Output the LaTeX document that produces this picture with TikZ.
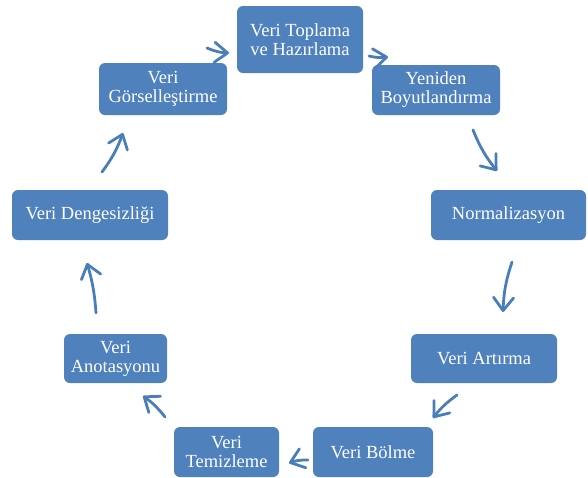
\documentclass[tikz,border=0pt]{standalone}
\usepackage{fontspec}
\setmainfont{Liberation Serif}
\usetikzlibrary{positioning, arrows.meta, calc}

\definecolor{boxblue}{RGB}{79,129,189}
\definecolor{arrowblue}{RGB}{74,126,187}

\begin{document}
\begin{tikzpicture}[x=1pt, y=-1pt,
        stage/.style={fill=boxblue, rounded corners=6pt, inner sep=0pt, align=center,
            text=white, font=\fontsize{18.5}{19}\selectfont},
        flow/.style={draw=arrowblue, line width=2.8pt, line cap=round, line join=round,
            -{Straight Barb[length=13pt, width=20pt, line cap=round, line join=round]}}]

        \useasboundingbox (0,0) rectangle (588,477);

        %STAGES
        \node[stage, minimum width=126pt, minimum height=67pt] (toplama) at (300,39.5) {Veri Toplama\\ve Hazırlama};
        \node[stage, minimum width=128pt, minimum height=50pt] (yeniden) at (436,90) {Yeniden\\Boyutlandırma};
        \node[stage, minimum width=155pt, minimum height=50pt] (norm) at (508.5,215) {Normalizasyon};
        \node[stage, minimum width=146pt, minimum height=49pt] (artirma) at (484,358.5) {Veri Artırma};
        \node[stage, minimum width=120pt, minimum height=50pt] (bolme) at (373,452) {Veri Bölme};
        \node[stage, minimum width=105pt, minimum height=50pt] (temizleme) at (226.5,452) {Veri\\Temizleme};
        \node[stage, minimum width=103pt, minimum height=49pt] (anot) at (115.5,358.5) {Veri\\Anotasyonu};
        \node[stage, minimum width=156pt, minimum height=50pt] (denge) at (90,215) {Veri Dengesizliği};
        \node[stage, minimum width=128pt, minimum height=52pt] (gorsel) at (163,89) {Veri\\Görselleştirme};

        % ARROW ENDS (FREE, BETWEEN THE STAGES)
        \coordinate (gorsel out) at (207,48);   \coordinate (toplama in) at (229,53);
        \coordinate (toplama out) at (369,56);  \coordinate (yeniden in) at (388,57);
        \coordinate (yeniden out) at (473,130); \coordinate (norm in) at (497,171);
        \coordinate (norm out) at (512,262);    \coordinate (artirma in) at (503,312);
        \coordinate (artirma out) at (457,395); \coordinate (bolme in) at (433,418);
        \coordinate (bolme out) at (308,460);   \coordinate (temizleme in) at (289,463);
        \coordinate (temizleme out) at (165,417); \coordinate (anot in) at (143,396);
        \coordinate (anot out) at (96,313);     \coordinate (denge in) at (87,263);
        \coordinate (denge out) at (102,172);   \coordinate (gorsel in) at (123,133);

        % CYCLE
        \draw[flow] (gorsel out) to[bend right=10] (toplama in);
        \draw[flow] (toplama out) to[bend right=10] (yeniden in);
        \draw[flow] (yeniden out) to[bend right=8] (norm in);
        \draw[flow] (norm out) to[bend right=8] (artirma in);
        \draw[flow] (artirma out) to[bend right=8] (bolme in);
        \draw[flow] (bolme out) to[bend right=10] (temizleme in);
        \draw[flow] (temizleme out) to[bend right=8] (anot in);
        \draw[flow] (anot out) to[bend right=6] (denge in);
        \draw[flow] (denge out) to[bend right=8] (gorsel in);

    \end{tikzpicture}
\end{document}
